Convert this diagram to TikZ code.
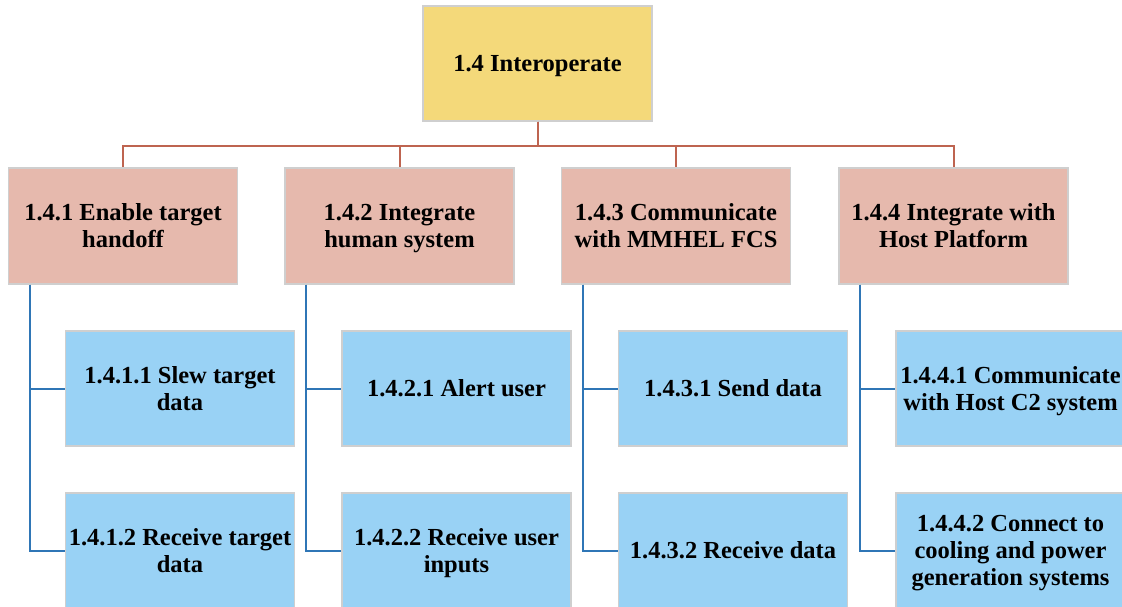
\documentclass[tikz,border=0pt]{standalone}
\usepackage{fontspec}
\usepackage{array}
\setmainfont{Liberation Serif}
\definecolor{topfill}{HTML}{F4D97A}
\definecolor{midfill}{HTML}{E6B9AD}
\definecolor{leaffill}{HTML}{99D2F5}
\definecolor{boxedge}{HTML}{CFCFCF}
\definecolor{redline}{HTML}{BE6450}
\definecolor{blueline}{HTML}{2F76B6}
% every text line gets the same fixed height, so blocks centre on their middle line
\newcommand{\wbsrow}{\rule[-5.5pt]{0pt}{27pt}}
\newcommand{\wbstext}[1]{{\renewcommand{\arraystretch}{0}%
  \begin{tabular}{@{}>{\wbsrow}c@{}}#1\end{tabular}}}
\tikzset{
  wbs/.style={draw=boxedge, line width=1.2pt, minimum width=229pt, minimum height=115pt,
    inner sep=2pt, font=\bfseries\fontsize{24.5}{27}\selectfont},
  topbox/.style={wbs, fill=topfill},
  midbox/.style={wbs, fill=midfill, minimum height=116pt},
  leafbox/.style={wbs, fill=leaffill},
  redlink/.style={draw=redline, line width=2pt},
  bluelink/.style={draw=blueline, line width=2pt},
}
\begin{document}
\begin{tikzpicture}[x=1pt, y=-1pt]
\useasboundingbox (0,0) rectangle (1122,607);

% top level
\node[topbox] (top) at (537.5,63.5) {\wbstext{1.4 Interoperate}};

% second level
\node[midbox] (b1) at (123,226) {\wbstext{1.4.1 Enable target\\handoff}};
\node[midbox] (b2) at (399.5,226) {\wbstext{1.4.2 Integrate\\human system}};
\node[midbox] (b3) at (676,226) {\wbstext{1.4.3 Communicate\\with MMHEL FCS}};
\node[midbox] (b4) at (953.5,226) {\wbstext{1.4.4 Integrate with\\Host Platform}};

% third level
\node[leafbox] (c11) at (180,388.5) {\wbstext{1.4.1.1 Slew target\\data}};
\node[leafbox] (c12) at (180,550.5) {\wbstext{1.4.1.2 Receive target\\data}};
\node[leafbox] (c21) at (456.5,388.5) {\wbstext{1.4.2.1 Alert user}};
\node[leafbox] (c22) at (456.5,550.5) {\wbstext{1.4.2.2 Receive user\\inputs}};
\node[leafbox] (c31) at (733,388.5) {\wbstext{1.4.3.1 Send data}};
\node[leafbox] (c32) at (733,550.5) {\wbstext{1.4.3.2 Receive data}};
\node[leafbox] (c41) at (1010.5,388.5) {\wbstext{1.4.4.1 Communicate\\with Host C2 system}};
\node[leafbox] (c42) at (1010.5,550.5) {\wbstext{1.4.4.2 Connect to\\cooling and power\\generation systems}};

% top to second level
\foreach \b in {b1,b2,b3,b4}
  \draw[redlink] (top.south) -- ++(0,24) -| (\b.north);

% second level to third level
\foreach \p/\a/\c in {b1/c11/c12, b2/c21/c22, b3/c31/c32, b4/c41/c42}{
  \draw[bluelink] ([xshift=22pt]\p.south west) |- (\a.west);
  \draw[bluelink] ([xshift=22pt]\p.south west) |- (\c.west);
}
\end{tikzpicture}
\end{document}
